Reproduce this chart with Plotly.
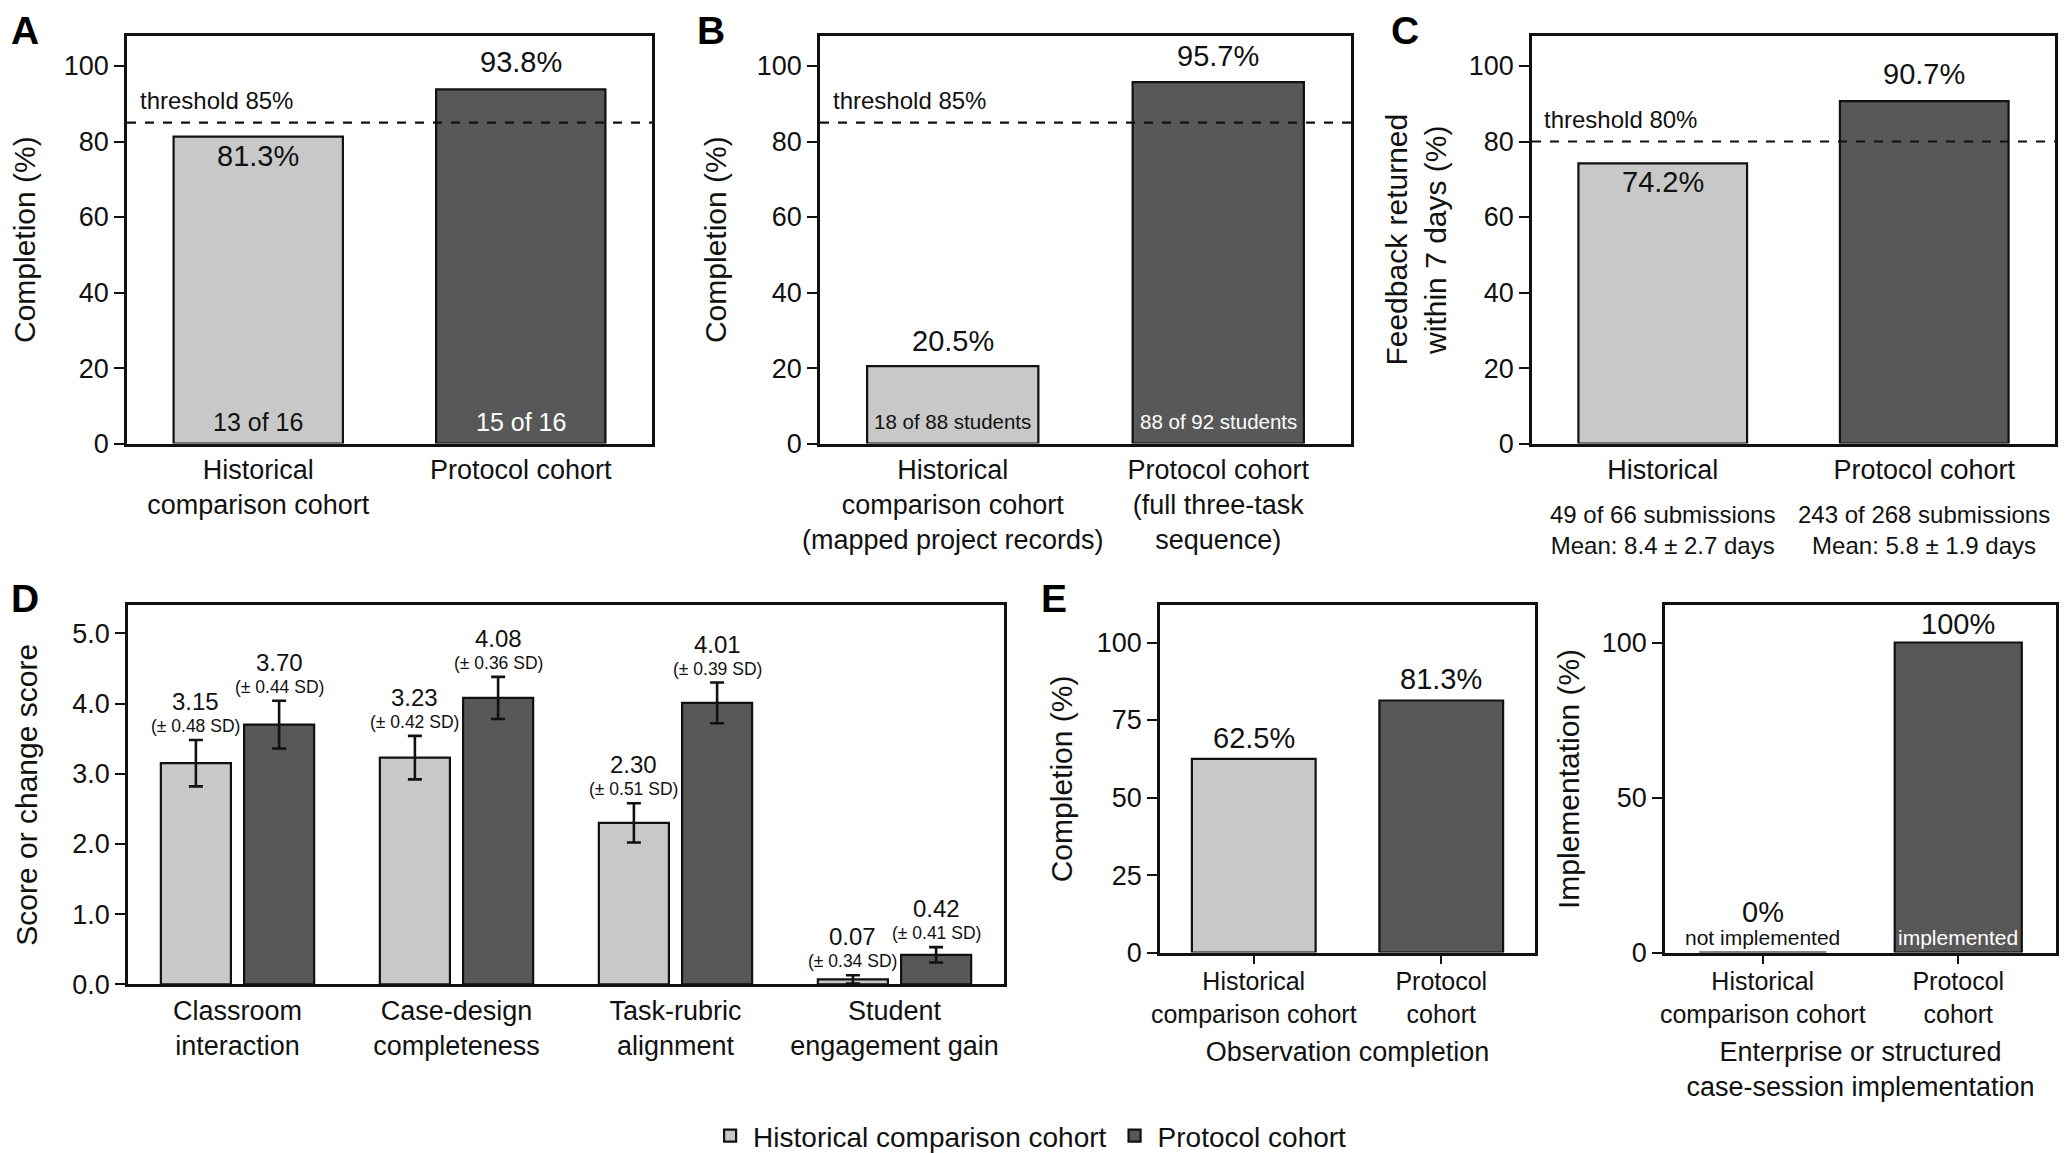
import plotly.graph_objects as go

# ---------------- data ----------------
cohorts = ["Historical comparison cohort", "Protocol cohort"]

# Panel A
a_cats = ["Historical<br>comparison cohort", "Protocol cohort"]
a_pct = [81.3, 93.8]
a_n = [13, 15]
a_tot = [16, 16]
a_threshold = 85

# Panel B
b_cats = ["Historical<br>comparison cohort<br>(mapped project records)",
          "Protocol cohort<br>(full three-task<br>sequence)"]
b_pct = [20.5, 95.7]
b_n = [18, 88]
b_tot = [88, 92]
b_threshold = 85

# Panel C
c_cats = ["Historical", "Protocol cohort"]
c_pct = [74.2, 90.7]
c_n = [49, 243]
c_tot = [66, 268]
c_mean_days = [8.4, 5.8]
c_sd_days = [2.7, 1.9]
c_threshold = 80

# Panel D
d_cats = ["Classroom<br>interaction", "Case-design<br>completeness",
          "Task-rubric<br>alignment", "Student<br>engagement gain"]
d_hist = [3.15, 3.23, 2.30, 0.07]
d_prot = [3.70, 4.08, 4.01, 0.42]
d_hist_sd = [0.48, 0.42, 0.51, 0.34]
d_prot_sd = [0.44, 0.36, 0.39, 0.41]
d_hist_err = [0.33, 0.31, 0.28, 0.06]
d_prot_err = [0.34, 0.30, 0.29, 0.11]

# Panel E
e_cats = ["Historical<br>comparison cohort", "Protocol<br>cohort"]
e1_pct = [62.5, 81.3]
e2_pct = [0, 100]
e2_status = ["not implemented", "implemented"]

# ---------------- style ----------------
LIGHT = "#c8c8c8"
DARK = "#585858"
INK = "#111111"
FONT = "Liberation Sans, Arial, Helvetica, sans-serif"
W, H = 2067, 1153


def px_x(p):
    return p / W


def px_y(p):
    return 1 - p / H


fig = go.Figure()

bar_line = dict(color=INK, width=2.2)


def single_bars(cats, vals, xa, ya, w=0.645):
    fig.add_trace(go.Bar(x=cats, y=vals, width=w,
                         marker=dict(color=[LIGHT, DARK], line=bar_line),
                         xaxis=xa, yaxis=ya, showlegend=False, hoverinfo="skip"))


single_bars(a_cats, a_pct, "x", "y")
single_bars(b_cats, b_pct, "x2", "y2")
single_bars(c_cats, c_pct, "x3", "y3")
single_bars(e_cats, e1_pct, "x5", "y5", 0.66)
single_bars(e_cats, e2_pct, "x6", "y6", 0.65)

# Panel D grouped bars
fig.add_trace(go.Bar(x=d_cats, y=d_hist, name=cohorts[0], offset=-0.35, width=0.32,
                     marker=dict(color=LIGHT, line=bar_line),
                     error_y=dict(type="data", array=d_hist_err, color=INK, thickness=2.6, width=7),
                     xaxis="x4", yaxis="y4"))
fig.add_trace(go.Bar(x=d_cats, y=d_prot, name=cohorts[1], offset=0.03, width=0.32,
                     marker=dict(color=DARK, line=bar_line),
                     error_y=dict(type="data", array=d_prot_err, color=INK, thickness=2.6, width=7),
                     xaxis="x4", yaxis="y4"))

# ---------------- axes ----------------
top_y = [px_y(439), px_y(28)]
bot_y_d = [px_y(984), px_y(602)]
bot_y_e = [px_y(952), px_y(602)]

domains = {
    "1": ([px_x(119), px_x(644)], top_y),
    "2": ([px_x(812), px_x(1343)], top_y),
    "3": ([px_x(1524), px_x(2047)], top_y),
    "4": ([px_x(120), px_x(996)], bot_y_d),
    "5": ([px_x(1152), px_x(1527)], bot_y_e),
    "6": ([px_x(1657), px_x(2048)], bot_y_e),
}

tickfont = dict(family=FONT, size=27, color=INK)
titlefont = dict(family=FONT, size=30, color=INK)

y_titles = {"1": "Completion (%)", "2": "Completion (%)",
            "3": "Feedback returned<br>within 7 days (%)",
            "4": "Score or change score", "5": "Completion (%)",
            "6": "Implementation (%)"}
y_standoff = {"1": 20, "2": 22, "3": 14, "4": 26, "5": 16, "6": 14}

for k, (xd, yd) in domains.items():
    xs = "" if k == "1" else k
    xkey = "xaxis" + xs
    ykey = "yaxis" + xs
    ytk = "y" + xs
    xtk = "x" + xs
    fig.layout[xkey] = dict(domain=xd, anchor=ytk, showline=True, linecolor=INK, linewidth=2.6,
                            mirror=True, ticks="", tickfont=tickfont, showgrid=False,
                            zeroline=False, automargin=False, fixedrange=True)
    fig.layout[ykey] = dict(domain=yd, anchor=xtk, showline=True, linecolor=INK, linewidth=2.6,
                            mirror=True, ticks="outside", ticklen=10, tickwidth=2.4,
                            tickcolor=INK, tickfont=tickfont, showgrid=False, zeroline=False,
                            automargin=False, fixedrange=True,
                            title=dict(text=y_titles[k], font=titlefont, standoff=y_standoff[k]))

for k in ["1", "2", "3"]:
    ys = "" if k == "1" else k
    fig.layout["yaxis" + ys].update(range=[0, 108], dtick=20, tick0=0)
    fig.layout["xaxis" + ys].update(ticklabelstandoff=0)

fig.layout.yaxis4.update(range=[0, 5.4], tickvals=[0, 1, 2, 3, 4, 5], tickformat=".1f")
fig.layout.xaxis4.update(ticklabelstandoff=0)
fig.layout.yaxis5.update(range=[0, 112], tickvals=[0, 25, 50, 75, 100])
fig.layout.yaxis6.update(range=[0, 112], tickvals=[0, 50, 100])
for k in ["5", "6"]:
    fig.layout["xaxis" + k].update(ticks="outside", ticklen=9, tickwidth=2.4, tickcolor=INK,
                                   tickfont=dict(family=FONT, size=25, color=INK),
                                   ticklabelstandoff=-4)
fig.layout.xaxis5.title = dict(text="Observation completion", font=dict(family=FONT, size=27, color=INK),
                               standoff=16)
fig.layout.xaxis6.title = dict(text="Enterprise or structured<br>case-session implementation",
                               font=dict(family=FONT, size=27, color=INK), standoff=16)

# ---------------- threshold lines ----------------
for k, thr in [("1", a_threshold), ("2", b_threshold), ("3", c_threshold)]:
    xs = "" if k == "1" else k
    fig.add_shape(type="line", xref="x" + xs + " domain", yref="y" + xs,
                  x0=0, x1=1, y0=thr, y1=thr, line=dict(color=INK, width=2.2, dash="dash"))
    fig.add_annotation(xref="x" + xs + " domain", yref="y" + xs, x=0.02, y=thr,
                       text=f"threshold {thr}%", showarrow=False, xanchor="left",
                       yanchor="bottom", yshift=7, font=dict(family=FONT, size=24, color=INK))

# ---------------- value labels ----------------
VAL = dict(family=FONT, size=29, color=INK)


def pct_label(xr, yr, cat, v, inside=False, yshift=0):
    fig.add_annotation(xref=xr, yref=yr, x=cat, y=v, text=f"{v:.1f}%", showarrow=False,
                       yanchor="top" if inside else "bottom", yshift=yshift, font=VAL)


def count_label(xr, yr, cat, text, color, size, yshift):
    fig.add_annotation(xref=xr, yref=yr, x=cat, y=0, text=text, showarrow=False,
                       yanchor="bottom", yshift=yshift, font=dict(family=FONT, size=size, color=color))


# A
pct_label("x", "y", a_cats[0], a_pct[0], inside=True, yshift=-1)
pct_label("x", "y", a_cats[1], a_pct[1], yshift=9)
for i, c in enumerate(a_cats):
    count_label("x", "y", c, f"{a_n[i]} of {a_tot[i]}", INK if i == 0 else "white", 25, 6)
# B
pct_label("x2", "y2", b_cats[0], b_pct[0], yshift=7)
pct_label("x2", "y2", b_cats[1], b_pct[1], yshift=8)
for i, c in enumerate(b_cats):
    count_label("x2", "y2", c, f"{b_n[i]} of {b_tot[i]} students", INK if i == 0 else "white", 20.5, 9)
# C
pct_label("x3", "y3", c_cats[0], c_pct[0], inside=True, yshift=-1)
pct_label("x3", "y3", c_cats[1], c_pct[1], yshift=9)
for i, c in enumerate(c_cats):
    fig.add_annotation(xref="x3", yref="y3 domain", x=c, y=0, showarrow=False, yanchor="top",
                       yshift=-55,
                       text=f"{c_n[i]} of {c_tot[i]} submissions<br>Mean: {c_mean_days[i]} \u00b1 {c_sd_days[i]} days",
                       font=dict(family=FONT, size=24, color=INK))
# D
for vals, sds, errs, off in [(d_hist, d_hist_sd, d_hist_err, -0.19), (d_prot, d_prot_sd, d_prot_err, 0.19)]:
    for i, c in enumerate(d_cats):
        top = vals[i] + errs[i]
        fig.add_annotation(xref="x4", yref="y4", x=c, y=top, xshift=off * 219, showarrow=False,
                           yanchor="bottom", yshift=2, text=f"(\u00b1 {sds[i]:.2f} SD)",
                           font=dict(family=FONT, size=17.5, color=INK))
        fig.add_annotation(xref="x4", yref="y4", x=c, y=top, xshift=off * 219, showarrow=False,
                           yanchor="bottom", yshift=23, text=f"{vals[i]:.2f}",
                           font=dict(family=FONT, size=24, color=INK))
# E1
for i, c in enumerate(e_cats):
    pct_label("x5", "y5", c, e1_pct[i], yshift=3)
# E2
fig.add_annotation(xref="x6", yref="y6", x=e_cats[1], y=e2_pct[1], text=f"{e2_pct[1]:.0f}%",
                   showarrow=False, yanchor="bottom", yshift=1, font=VAL)
fig.add_annotation(xref="x6", yref="y6", x=e_cats[0], y=0, text=f"{e2_pct[0]:.0f}%",
                   showarrow=False, yanchor="bottom", yshift=23, font=VAL)
for i, c in enumerate(e_cats):
    count_label("x6", "y6", c, e2_status[i], INK if i == 0 else "white", 21, 2)

# ---------------- panel letters ----------------
for letter, xp, yp in [("A", 2, 0), ("B", 688, 0), ("C", 1382, 0), ("D", 2, 572), ("E", 1032, 572)]:
    fig.add_annotation(xref="paper", yref="paper", x=px_x(xp), y=px_y(yp), text=f"<b>{letter}</b>",
                       showarrow=False, xanchor="left", yanchor="top", borderpad=0,
                       font=dict(family=FONT, size=39, color="black"))

fig.update_layout(
    width=W, height=H,
    margin=dict(l=0, r=0, t=0, b=0),
    paper_bgcolor="white", plot_bgcolor="white",
    barmode="overlay",
    font=dict(family=FONT, color=INK),
    showlegend=True,
    legend=dict(orientation="h", x=0.494, xanchor="center", y=px_y(1137), yanchor="middle",
                font=dict(family=FONT, size=28, color=INK), itemwidth=36,
                bgcolor="rgba(0,0,0,0)"),
)

fig.write_html("out.html")
